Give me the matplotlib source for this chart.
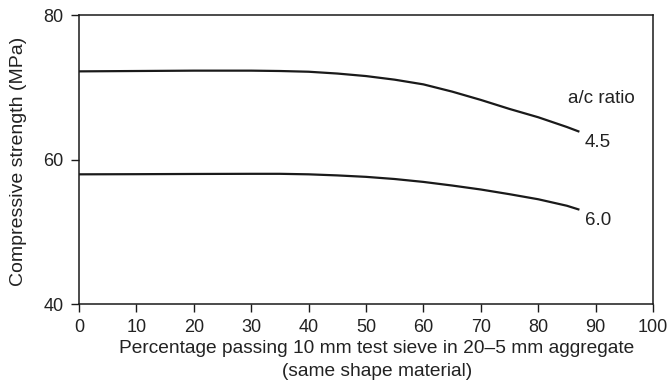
import matplotlib
matplotlib.use("Agg")
import matplotlib.pyplot as plt

plt.rcParams['font.family'] = ['Liberation Sans', 'DejaVu Sans']

# percentage passing 10 mm sieve
x_pass = [0, 10, 20, 30, 35, 40, 45, 50, 55, 60, 65, 70, 75, 80, 85, 87]
# compressive strength (MPa) for each a/c ratio
strength_45 = [72.2, 72.25, 72.3, 72.3, 72.25, 72.15, 71.9, 71.55, 71.05, 70.4,
               69.4, 68.25, 67.0, 65.85, 64.5, 63.9]
strength_60 = [57.95, 57.97, 58.0, 58.02, 58.02, 57.95, 57.8, 57.6, 57.3, 56.9,
               56.4, 55.85, 55.2, 54.5, 53.6, 53.1]
curve_labels = ['4.5', '6.0']
x_ticks = list(range(0, 101, 10))
y_ticks = [40, 60, 80]

txt = '#222222'

fig = plt.figure(figsize=(6.72, 3.84), dpi=100)
ax = fig.add_axes([0.1176, 0.2083, 0.8541, 0.7526])

ax.plot(x_pass, strength_45, color='#1a1a1a', lw=1.6)
ax.plot(x_pass, strength_60, color='#1a1a1a', lw=1.6)

ax.set_xlim(0, 100)
ax.set_ylim(40, 80)
ax.set_xticks(x_ticks)
ax.set_yticks(y_ticks)
ax.tick_params(direction='out', length=6, width=1, colors='#1a1a1a',
               labelsize=13, labelcolor=txt)
ax.tick_params(axis='x', pad=5)
ax.tick_params(axis='y', pad=5)
for s in ax.spines.values():
    s.set_linewidth(1.1)
    s.set_color('#1a1a1a')

ax.text(91, 68.5, 'a/c ratio', fontsize=13.5, color=txt, ha='center', va='center')
ax.text(90.4, 62.4, curve_labels[0], fontsize=13.5, color=txt, ha='center', va='center')
ax.text(90.4, 51.6, curve_labels[1], fontsize=13.5, color=txt, ha='center', va='center')

ax.set_ylabel('Compressive strength (MPa)', fontsize=14, color=txt)
ax.yaxis.set_label_coords(-0.09, 0.495)
ax.set_xlabel('Percentage passing 10 mm test sieve in 20\u20135 mm aggregate\n(same shape material)',
              fontsize=13.8, color=txt, linespacing=1.5)
ax.xaxis.set_label_coords(0.519, -0.124)
ax.xaxis.label.set_va('top')

fig.savefig('out.png', dpi=100)
